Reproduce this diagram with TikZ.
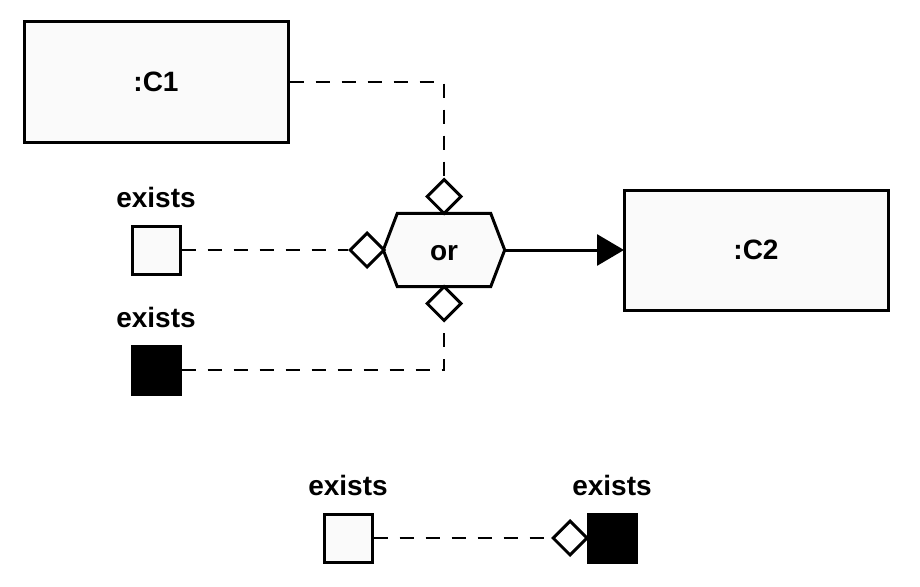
\documentclass[tikz,border=0pt]{standalone}
\usepackage{fontspec}
\setmainfont{Liberation Sans}
\usetikzlibrary{shapes.geometric,arrows.meta}
\begin{document}
\begin{tikzpicture}[x=1pt,y=-1pt,
  every node/.style={font=\fontsize{28}{32}\selectfont\bfseries},
  classbox/.style={draw, line width=3pt, fill=white!98!black, minimum width=264pt, minimum height=120pt, inner sep=0pt},
  sqbox/.style={draw, line width=3pt, minimum size=48pt, inner sep=0pt},
  whitesq/.style={sqbox, fill=white!98!black},
  blacksq/.style={sqbox, fill=black},
  port/.style={diamond, aspect=1, draw, line width=3pt, fill=white, minimum width=35pt, minimum height=35pt, inner sep=0pt},
  link/.style={line width=2.8pt, dash pattern=on 14pt off 12pt},
  lbl/.style={inner sep=0pt, anchor=base}
]
\useasboundingbox (0,0) rectangle (920,586);
\node[classbox] (c1) at (156,82) {:C1};
\node[classbox, outer sep=0pt] (c2) at (756,250) {:C2};
% or hexagon
\node[minimum width=121pt, minimum height=73pt, inner sep=0pt] (or) at (444,250) {};
\draw[line width=3pt, fill=white!98!black, line join=miter]
  (or.west) -- ([xshift=14pt]or.north west) -- ([xshift=-14pt]or.north east) -- (or.east)
  -- ([xshift=-14pt]or.south east) -- ([xshift=14pt]or.south west) -- cycle;
\node[lbl] (ortext) at (444,260) {or};
% ports
\node[port] (dtop) at (444,196.5) {};
\node[port] (dleft) at (367,250) {};
\node[port] (dbot) at (444,303.5) {};
\node[port] (d4) at (570,538) {};
% squares
\node[whitesq] (s1) at (156,250) {};
\node[blacksq] (s2) at (156,370) {};
\node[whitesq] (s3) at (348,538) {};
\node[blacksq] (s4) at (612,538) {};
% labels
\node[lbl] (l1) at (156,207) {exists};
\node[lbl] (l2) at (156,327) {exists};
\node[lbl] (l3) at (348,495) {exists};
\node[lbl] (l4) at (612,495) {exists};
% connectors
\draw[link] (c1.east) -| (dtop.north);
\draw[link] (s1.east) -- (dleft.west);
\draw[link] (s2.east) -| (dbot.south);
\draw[link] (s3.east) -- (d4.west);
\draw[line width=3pt, -{Triangle[length=27pt,width=31pt]}] (or.east) -- (c2.west);
\end{tikzpicture}
\end{document}
